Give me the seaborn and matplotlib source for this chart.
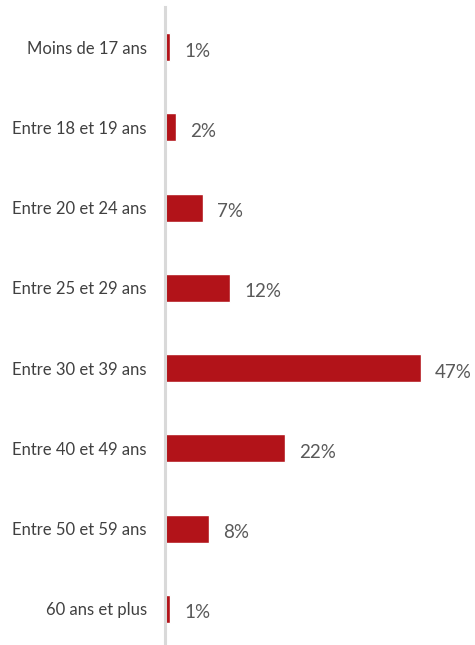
import matplotlib
matplotlib.use("Agg")
import matplotlib.pyplot as plt
import seaborn as sns
import pandas as pd

categories = [
    "Moins de 17 ans",
    "Entre 18 et 19 ans",
    "Entre 20 et 24 ans",
    "Entre 25 et 29 ans",
    "Entre 30 et 39 ans",
    "Entre 40 et 49 ans",
    "Entre 50 et 59 ans",
    "60 ans et plus",
]
values = [1, 2, 7, 12, 47, 22, 8, 1]
value_labels = ["1%", "2%", "7%", "12%", "47%", "22%", "8%", "1%"]

df = pd.DataFrame({"age": categories, "pct": values})

sns.set_style("white")
plt.rcParams["font.family"] = ["Lato", "DejaVu Sans"]

fig = plt.figure(figsize=(4.75, 6.45), dpi=100)
ax = fig.add_axes([165 / 475, -4 / 645, 310 / 475, 642 / 645])

sns.barplot(data=df, y="age", x="pct", orient="h", color="#B21319",
            saturation=1, width=0.35, ax=ax)

for i, (v, lab) in enumerate(zip(values, value_labels)):
    ax.text(v + 2.6, i + 0.03, lab, va="center_baseline", ha="left",
            fontsize=13.5, color="#595959")

ax.set_xlim(0, 57)
ax.set_ylim(7.5, -0.5)
ax.set_xlabel("")
ax.set_ylabel("")
ax.set_xticks([])
ax.tick_params(axis="y", length=0, pad=13, labelsize=12, labelcolor="#404040")
for t in ax.get_yticklabels():
    t.set_verticalalignment("center_baseline")
for s in ["top", "right", "bottom"]:
    ax.spines[s].set_visible(False)
ax.spines["left"].set_color("#D9D9D9")
ax.spines["left"].set_linewidth(2.2)

fig.savefig("out.png", dpi=100)
